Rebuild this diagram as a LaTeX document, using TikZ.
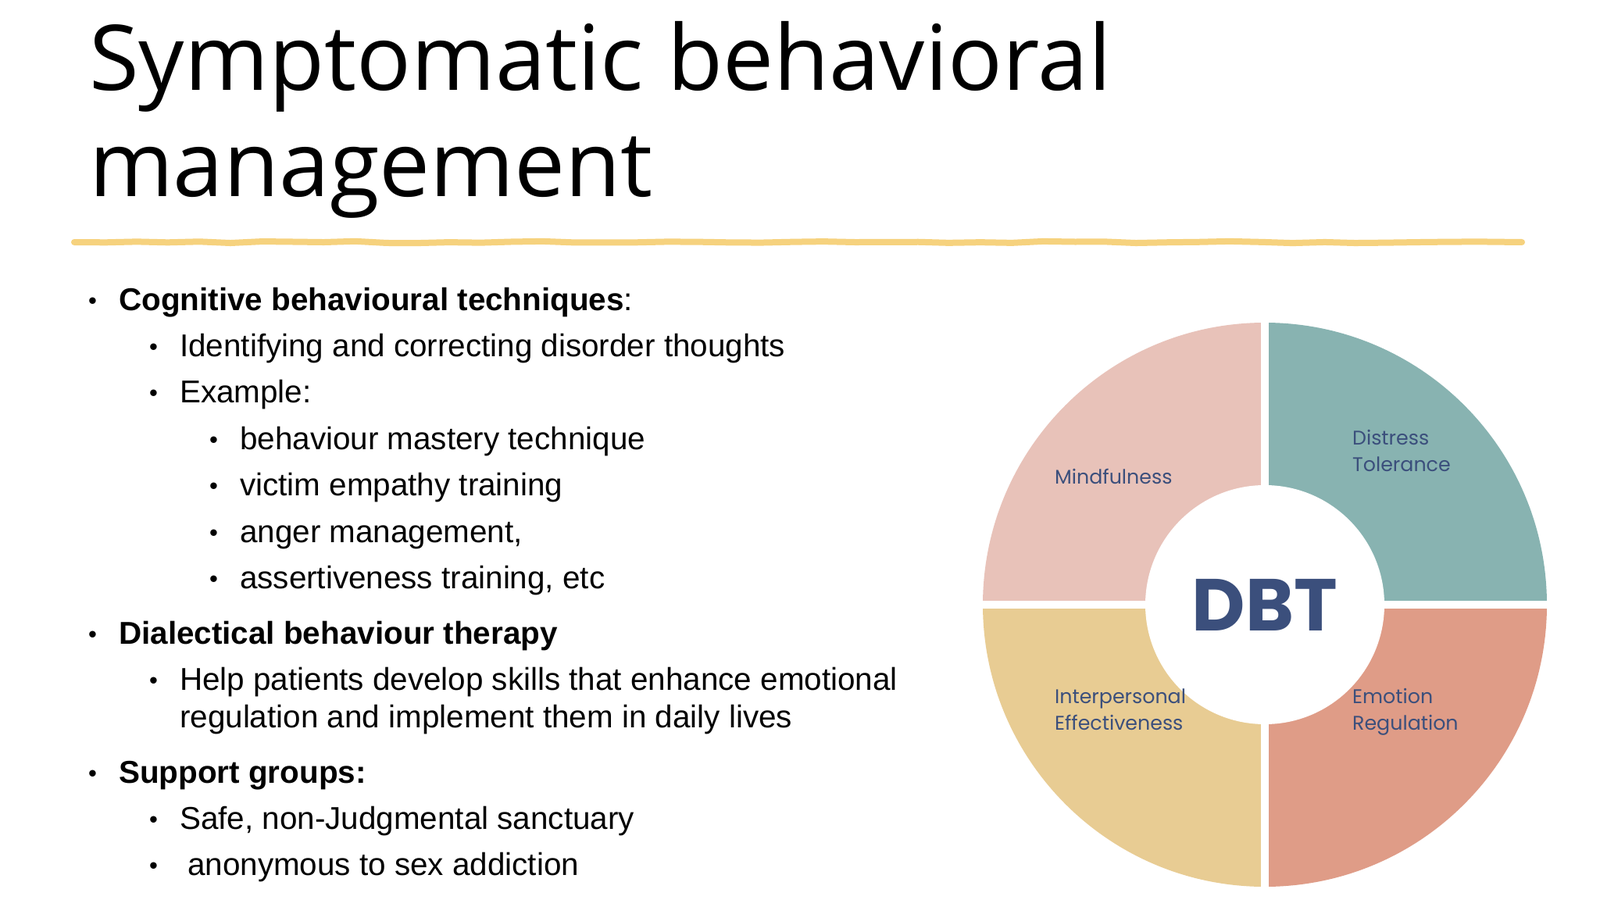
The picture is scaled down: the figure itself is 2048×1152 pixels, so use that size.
\documentclass[tikz,border=0pt]{standalone}
\usepackage{fontspec}
\setmainfont{Liberation Sans}
\newfontfamily\titlefont{Open Sans}
\newfontfamily\dbtfont{Poppins}
\usetikzlibrary{decorations.pathmorphing}
\definecolor{wavy}{HTML}{F6D27E}
\definecolor{qpink}{HTML}{E8C2B9}
\definecolor{qteal}{HTML}{88B3B1}
\definecolor{qyellow}{HTML}{E8CC93}
\definecolor{qsalmon}{HTML}{DF9C87}
\definecolor{dbtblue}{HTML}{3B4F7C}
\tikzset{
  body/.style={anchor=base west,inner sep=0pt,font=\fontsize{57.5}{66}\selectfont},
  bul/.style={anchor=base west,inner sep=0pt},
  qlabel/.style={anchor=base west,inner sep=0pt,align=left,text=dbtblue,font=\dbtfont\fontsize{36}{48}\selectfont},
}
\begin{document}
\begin{tikzpicture}[x=0.05cm,y=-0.05cm]
\useasboundingbox (0,0) rectangle (2048,1152);
\fill[white] (0,0) rectangle (2048,1152);
% title
\node[anchor=base west,inner sep=0pt,font=\titlefont\fontsize{165}{190}\selectfont] (t1) at (114,116) {Symptomatic behavioral};
\node[anchor=base west,inner sep=0pt,font=\titlefont\fontsize{165}{190}\selectfont] (t2) at (114,251) {management};
\draw[wavy,line width=0.4cm,line cap=round,decorate,decoration={random steps,segment length=2cm,amplitude=0.06cm}] (95,310) -- (1948,310);
% bullets
\foreach \bx/\tx/\y/\txt in {
 113/152/397/{\textbf{Cognitive behavioural techniques}:},
 191/230/456/{Identifying and correcting disorder thoughts},
 191/230/515/{Example:},
 268/307/575/{behaviour mastery technique},
 268/307/634/{victim empathy training},
 268/307/694/{anger management,},
 268/307/753/{assertiveness training, etc},
 113/152/824/{\textbf{Dialectical behaviour therapy}},
 191/230/883/{Help patients develop skills that enhance emotional},
 113/152/1002/{\textbf{Support groups:}},
 191/230/1061/{Safe, non-Judgmental sanctuary},
 191/240/1120/{anonymous to sex addiction}}
{
 \node[bul] at (\bx,\y-2) {\fontsize{44}{44}\selectfont\textbullet};
 \node[body] at (\tx,\y) {\txt};
}
\node[body] (cont) at (230,931) {regulation and implement them in daily lives};
% DBT wheel
\begin{scope}[shift={(1619,774)},y=0.05cm]
\coordinate (c) at (0,0);
\fill[qpink] (c) -- (-361,0) arc[start angle=180,end angle=90,radius=361] -- cycle;
\fill[qteal] (c) -- (0,361) arc[start angle=90,end angle=0,radius=361] -- cycle;
\fill[qsalmon] (c) -- (361,0) arc[start angle=0,end angle=-90,radius=361] -- cycle;
\fill[qyellow] (c) -- (0,-361) arc[start angle=-90,end angle=-180,radius=361] -- cycle;
\fill[white] (-5,-380) rectangle (5,380);
\fill[white] (-380,-5) rectangle (380,5);
\fill[white] (c) circle[radius=153];
\node[inner sep=0pt,text=dbtblue,font=\dbtfont\fontsize{134}{134}\selectfont\bfseries] (dbt) at (c) {DBT};
\end{scope}
\node[qlabel] (mind) at (1350,619) {Mindfulness};
\node[qlabel] (dist) at (1731,603) {Distress\\Tolerance};
\node[qlabel] (inter) at (1350,934) {Interpersonal\\Effectiveness};
\node[qlabel] (emo) at (1731,934) {Emotion\\Regulation};
\end{tikzpicture}
\end{document}
